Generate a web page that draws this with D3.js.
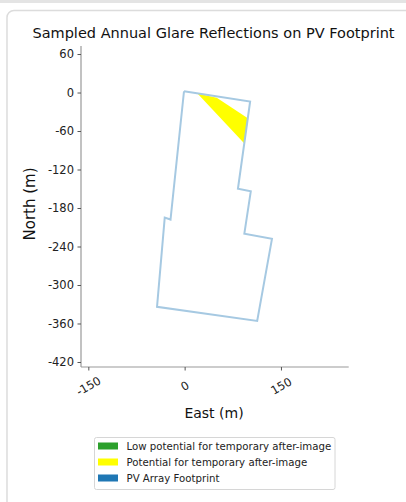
<!DOCTYPE html>
<html lang="en">
<head>
<meta charset="UTF-8">
<title>Glare footprint</title>
<script src="https://cdn.jsdelivr.net/npm/d3@7/dist/d3.min.js"></script>
<style>
  body { margin: 0; background: #fff; }
  svg { display: block; font-family: "DejaVu Sans", sans-serif; }
</style>
</head>
<body>
<svg width="406" height="502"></svg>
<script>
// footprint outline, east / north in metres
var footEast  = [-1, 102, 83, 103, 93, 136, 113, -43, -31, -22, -1];
var footNorth = [2, -14, -150, -154, -220, -228, -356, -334, -195, -198, 2];
// glare patch (potential for after-image)
var glareEast  = [20, 50, 99, 93, 20];
var glareNorth = [-1.5, -8, -40.5, -79.5, -1.5];

var xTicks = [-150, 0, 150];
var yTicks = [60, 0, -60, -120, -180, -240, -300, -360, -420];

var legendNames  = ["Low potential for temporary after-image", "Potential for temporary after-image", "PV Array Footprint"];
var legendColors = ["#2ca02c", "#ffff00", "#1f77b4"];

var svg = d3.select("svg");

// page frame
svg.append("rect").attr("x", 0).attr("y", 0).attr("width", 406).attr("height", 3).attr("fill", "#e4e4e4");
svg.append("rect").attr("x", 7).attr("y", 10.5).attr("width", 420).attr("height", 520)
  .attr("rx", 7).attr("fill", "#fff").attr("stroke", "#dcdcdc").attr("stroke-width", 1.5);

var x = d3.scaleLinear().domain([-161.4, 255.5]).range([81, 348.7]);
var y = d3.scaleLinear().domain([72.5, -427.8]).range([46, 367]);

var line = d3.line().x(function(d){ return x(d[0]); }).y(function(d){ return y(d[1]); });

var glare = d3.zip(glareEast, glareNorth);
var foot  = d3.zip(footEast, footNorth);

svg.append("path").datum(glare).attr("d", line).attr("fill", "#ffff00").attr("stroke", "none");
svg.append("path").datum(foot).attr("d", line).attr("fill", "none")
  .attr("stroke", "#a6c9e2").attr("stroke-width", 2).attr("stroke-linejoin", "miter");

// axes
var yAxis = svg.append("g").attr("transform", "translate(81,0)")
  .call(d3.axisLeft(y).tickValues(yTicks).tickFormat(function(d){ return String(d); }).tickSize(3.5).tickPadding(3.5));
var xAxis = svg.append("g").attr("transform", "translate(0,367)")
  .call(d3.axisBottom(x).tickValues(xTicks).tickFormat(function(d){ return String(d); }).tickSize(3.5).tickPadding(3.5));

[yAxis, xAxis].forEach(function(a){
  a.select(".domain").attr("stroke", "#999").attr("stroke-width", 1.2);
  a.selectAll(".tick line").attr("stroke", "#555");
  a.selectAll("text").attr("fill", "#222").style("font-size", "11.5px").style("font-family", "DejaVu Sans");
});
yAxis.select(".domain").attr("d", "M0,46V367");
xAxis.select(".domain").attr("d", "M81,0H348.7");

xAxis.selectAll(".tick text")
  .attr("text-anchor", "middle").attr("dy", null).attr("y", 0)
  .attr("transform", "translate(0,19.5) rotate(-30)")
  .attr("dominant-baseline", "middle");

// titles
svg.append("text").attr("x", 213.5).attr("y", 38).attr("text-anchor", "middle")
  .style("font-size", "14.5px").attr("fill", "#111").text("Sampled Annual Glare Reflections on PV Footprint");
svg.append("text").attr("transform", "translate(35,204) rotate(-90)").attr("text-anchor", "middle")
  .style("font-size", "15px").attr("fill", "#111").text("North (m)");
svg.append("text").attr("x", 214).attr("y", 418).attr("text-anchor", "middle")
  .style("font-size", "14px").attr("fill", "#111").text("East (m)");

// legend
var lg = svg.append("g");
lg.append("rect").attr("x", 94.5).attr("y", 437.5).attr("width", 240.5).attr("height", 52)
  .attr("rx", 2).attr("fill", "#fff").attr("stroke", "#d6d6d6");
var items = lg.selectAll("g.item").data(legendNames).enter().append("g")
  .attr("transform", function(d, i){ return "translate(98," + (446 + i * 16) + ")"; });
items.append("rect").attr("x", 0).attr("y", -3.5).attr("width", 20).attr("height", 7)
  .attr("fill", function(d, i){ return legendColors[i]; });
items.append("text").attr("x", 28.5).attr("y", 0).attr("dy", "0.35em")
  .style("font-size", "10.2px").attr("fill", "#222").text(function(d){ return d; });
</script>
</body>
</html>
